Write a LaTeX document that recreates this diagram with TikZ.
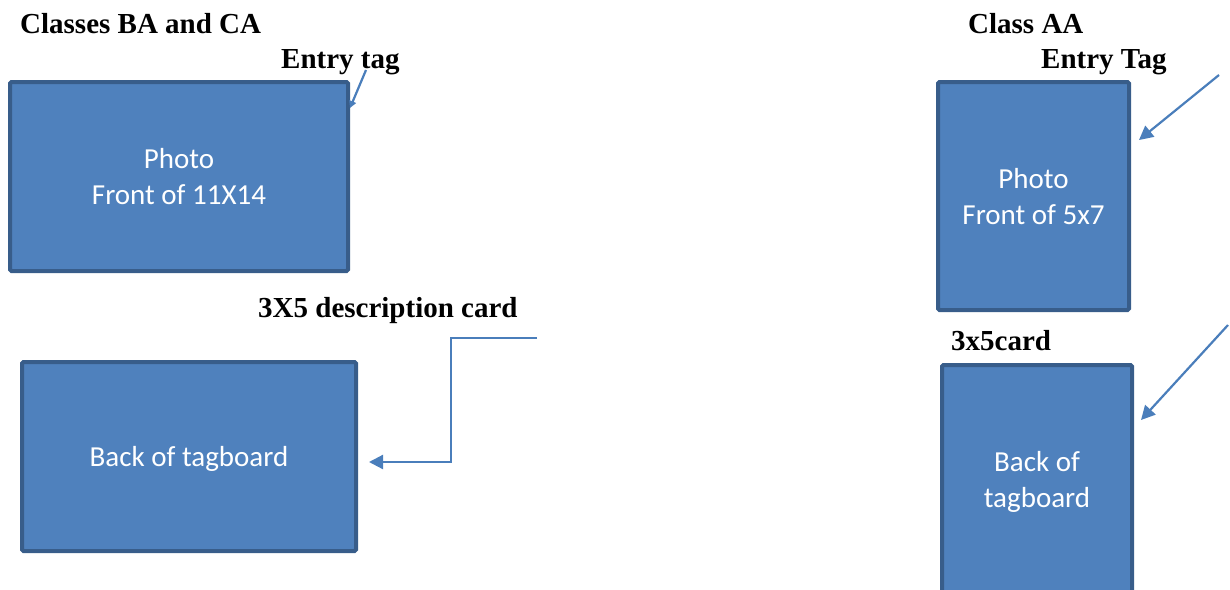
\documentclass[tikz,border=0pt]{standalone}
\usepackage{fontspec}
\setmainfont{Liberation Serif}
\newfontfamily\boxfont{Carlito}
\usetikzlibrary{positioning, arrows.meta}
\definecolor{cardfill}{HTML}{4F81BD}
\definecolor{carddraw}{HTML}{385D8A}
\definecolor{tagline}{HTML}{4A7EBB}

\begin{document}
\begin{tikzpicture}[x=1pt, y=-1pt,
  card/.style={rectangle, draw=carddraw, fill=cardfill, line width=4pt,
    rounded corners=1.5pt, text=white, align=center, inner sep=0pt,
    text depth=-2pt, font=\boxfont\fontsize{29}{36}\selectfont},
  label node/.style={font=\bfseries\fontsize{29}{34}\selectfont,
    inner sep=0pt, anchor=base west},
  tag line/.style={draw=tagline, line width=2.2pt,
    -{Triangle[length=14pt, width=14pt]}}]

\useasboundingbox (0,0) rectangle (1230,589);
\clip (0,0) rectangle (1230,589);

% left side
\node[card, minimum width=338pt, minimum height=189pt] (photoL) at (179,176.5) {Photo\\Front of 11X14};
\node[card, minimum width=334pt, minimum height=189pt] (backL) at (189,456.5) {Back of tagboard};

\node[label node] (classL) at (20,33) {Classes BA and CA};
\node[label node] (entryL) at (281,68) {Entry tag};
\node[label node] (descL) at (258,317) {3X5 description card};

% right side
\node[card, minimum width=191pt, minimum height=228pt] (photoR) at (1033.5,196) {Photo\\Front of 5x7};
\node[card, minimum width=190pt, minimum height=228pt] (backR) at (1037,479) {Back of\\tagboard};

\node[label node] (classR) at (968,33) {Class AA};
\node[label node] (entryR) at (1041,68) {Entry Tag};
\node[label node] (cardR) at (951,350) {3x5card};

\coordinate (tagL) at (366,70);
\coordinate (tagC) at (537,338);
\coordinate (tagR) at (1219,75);
\coordinate (tagB) at (1228,325);

\draw[tag line, -{Triangle[length=7pt, width=7pt]}] (tagL) -- ([yshift=-28pt]photoL.north east);
\draw[tag line] (tagC) -- ++(-86,0) |- ([xshift=11pt,yshift=-5.5pt]backL.east);
\draw[tag line] (tagR) -- ([xshift=8pt,yshift=56pt]photoR.east);
\draw[tag line] (tagB) -- ([xshift=7pt,yshift=59pt]backR.east);

\end{tikzpicture}
\end{document}
